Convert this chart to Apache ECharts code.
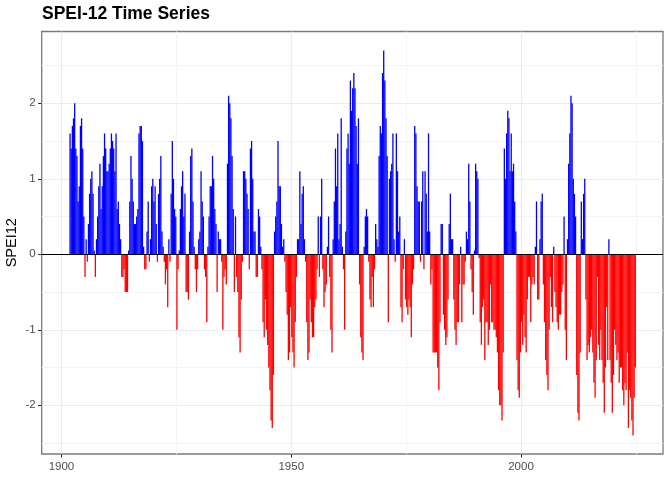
<!DOCTYPE html>
<html>
<head>
<meta charset="utf-8">
<script src="https://cdn.jsdelivr.net/npm/echarts@6.0.0/dist/echarts.min.js"></script>
<style>
  html, body { margin: 0; padding: 0; background: #ffffff; }
  #chart { width: 672px; height: 480px; }
</style>
</head>
<body>
<div id="chart"></div>
<script>
// SPEI-12, quarterly values, first quarter = 1901 Q4
var firstQuarter = 1901.75;
var quarterStep = 0.25;

var s1901 = [1.6,1.4,1.7,1.8,2.0,1.4,1.3,0.7,0.9,1.7, 1.8,1.4,0.5,-0.3,0.2,-0.1,0.4,0.8,1.0,1.1,
             0.8,0.05,-0.3,0.2,0.5,0.9,1.2,0.6,0.9,1.3, 1.6,1.4,1.1,1.1,1.2,1.4,1.6,1.5,1.4,1.1];
var s1911 = [1.6,0.6,0.7,0.4,0.2,-0.3,-0.3,-0.2,-0.5,-0.5, -0.5,0.05,0.7,1.3,1.0,0.7,0.4,0.4,0.5,0.6,
             1.6,1.7,1.7,1.5,0.1,-0.2,-0.2,0.3,0.7,-0.1, 0.2,0.9,1.0,0.7,0.9,0.4,-0.1,0.8,1.0,1.3];
var s1921 = [0.3,0.1,-0.1,-0.4,-0.2,-0.7,0.2,-0.1,0.8,1.5, 1.0,0.6,0.5,-1.0,-0.2,0.05,0.6,0.9,1.1,0.5,
             0.8,-0.5,-0.5,-0.6,0.3,1.3,1.4,0.7,0.1,-0.2, -0.5,-0.2,0.2,0.3,1.1,0.7,0.5,-0.2,-0.3,-0.9];
var s1931 = [0.1,0.5,0.9,0.9,1.3,1.0,0.6,0.4,-0.5,0.3, 0.2,0.2,-0.1,-1.0,-0.3,-0.2,-0.4,1.2,2.1,2.0,
             1.8,1.3,0.6,-0.5,0.5,-0.3,-0.5,-1.1,-1.3,-0.6, -0.1,1.1,1.1,1.0,0.8,0.6,-0.2,1.4,1.5,1.0];
var s1941 = [0.3,0.3,-0.3,-0.3,0.6,0.5,0.1,-0.2,-0.9,-1.1, -0.6,-1.0,-1.2,-1.5,-1.8,-2.2,-2.3,-1.6,0.3,0.5,
             0.7,1.5,0.9,0.9,0.4,0.1,0.2,-0.1,-0.5,-0.8, -1.4,-1.3,-0.7,-1.1,-1.3,-1.5,-0.9,-0.3,0.2,0.2];
var s1951 = [1.1,0.4,0.8,0.9,0.2,-0.1,-0.9,-1.4,-1.3,-0.6, -0.9,-1.1,-1.1,-0.7,-0.6,-0.2,0.5,-0.3,0.5,1.0,
             -0.2,-0.7,-0.5,-0.4,0.1,0.5,-0.3,-1.0,-1.3,0.2, 0.7,1.4,0.9,1.6,0.2,0.4,1.8,0.1,-0.2,-1.0];
var s1961 = [0.3,1.4,1.6,1.2,2.3,1.9,2.2,2.4,2.2,1.7, 1.2,1.8,-0.4,-1.1,-1.3,-1.4,0.1,0.5,0.6,0.5,
             -0.1,-0.6,-0.7,-0.3,-0.7,-0.2,0.4,0.2,0.1,1.3, 1.7,1.6,2.4,2.7,2.3,1.8,1.3,-0.9,1.0,1.1];
var s1971 = [1.2,1.6,0.2,-0.1,1.6,1.1,0.3,0.5,-0.7,-0.9, -0.2,0.2,-0.6,-0.7,-0.8,-0.6,-0.7,-1.1,-0.4,-0.2,
             1.7,1.6,0.9,0.7,0.7,-0.1,0.7,1.1,-0.2,1.1, 0.8,0.3,1.6,0.3,-0.4,-0.2,-1.3,-1.3,-1.3,-1.3];
var s1981 = [-1.5,-1.8,-0.9,0.4,0.4,-0.8,-1.0,-1.2,-1.1,-0.6, 0.4,0.8,0.2,0.2,-0.6,-1.0,-1.2,-0.9,-0.9,-0.4,
             0.1,-0.9,-0.4,-0.4,-0.1,0.3,0.2,1.2,0.7,-0.2, -0.5,-0.8,0.05,1.2,1.1,1.0,-0.05,-0.9,-1.2,-0.7];
var s1991 = [-0.6,-1.4,-0.9,-0.9,-1.2,-1.0,-0.4,-0.9,-0.9,-1.0, -1.0,-1.1,-1.3,-1.8,-2.0,-2.0,-2.2,-1.3,1.4,1.0,
             1.6,1.9,1.8,1.1,1.6,1.1,1.2,0.7,0.3,-1.4, -1.8,-1.9,-1.3,-0.9,-1.2,-0.8,-1.1,-1.3,-0.6,-0.3];
var s2001 = [-0.3,-0.9,-0.4,-0.3,-0.4,0.1,0.7,-0.6,-0.6,0.2, 0.7,0.8,-0.4,-0.9,-1.4,-1.6,-1.8,-1.0,-0.3,-0.7,
             -0.9,0.1,-0.5,-0.7,-0.9,-1.0,-0.8,-0.8,-0.5,-0.4, 0.5,-1.0,-1.4,0.2,1.2,1.6,2.1,2.0,1.0,0.8];
var s2011 = [0.5,-1.6,-2.1,-2.2,-1.3,0.7,0.2,0.8,1.0,-0.6, -1.4,-1.2,-1.3,-1.1,-1.0,-1.3,-1.7,-1.9,-1.4,-0.3,
             -1.2,-1.4,-1.0,-1.4,-1.7,-2.1,-1.5,-0.7,-1.4,0.2, -1.4,-1.7,-2.1,-1.6,-1.0,-1.2,-1.4,-1.3,-1.7,-1.5];
var s2021 = [-1.5,-1.8,-2.0,-1.7,-1.8,-1.3,-2.3,-1.8,-1.9,-2.2,-2.4,-1.9,-1.5];

var xMajor = [1900, 1950, 2000];
var xMinor = [1925, 1975, 2025];
var yMajor = [-2, -1, 0, 1, 2];
var yMinor = [-2.5, -1.5, -0.5, 0.5, 1.5, 2.5];

var values = [].concat(s1901, s1911, s1921, s1931, s1941, s1951, s1961,
                       s1971, s1981, s1991, s2001, s2011, s2021);
var points = values.map(function (v, i) {
    return [firstQuarter + i * quarterStep + quarterStep / 2, v];
});

var xMin = 1895.7, xMax = 2030.9;
var yMin = -2.645, yMax = 2.95;
var font = 'Liberation Sans, Arial, Helvetica, sans-serif';

var chart = echarts.init(document.getElementById('chart'));

var option = {
    animation: false,
    backgroundColor: '#ffffff',
    title: {
        text: 'SPEI-12 Time Series',
        left: 37,
        top: 0,
        textStyle: { fontFamily: font, fontSize: 17.5, fontWeight: 'bold', color: '#000000' }
    },
    grid: {
        left: 41.7, right: 9, top: 31.5, bottom: 26,
        containLabel: false,
        outerBoundsMode: 'none',
        show: true,
        borderColor: '#7a7a7a',
        borderWidth: 1.3,
        backgroundColor: 'transparent'
    },
    xAxis: [{
        type: 'value',
        position: 'bottom',
        min: xMin, max: xMax,
        axisLine: { show: false, onZero: false },
        axisTick: { show: true, length: 3.7, customValues: xMajor, lineStyle: { color: '#333333', width: 1 } },
        axisLabel: {
            customValues: xMajor, color: '#4d4d4d', fontSize: 11.5, fontFamily: font, margin: 7,
            formatter: function (v) { return String(v); }
        },
        splitLine: { show: true, lineStyle: { color: '#ebebeb', width: 1.1 } }
    }, {
        type: 'value',
        min: xMin, max: xMax,
        axisLine: { show: false, onZero: false },
        axisTick: { show: false, customValues: xMinor },
        axisLabel: { show: false },
        splitLine: { show: true, lineStyle: { color: '#f4f4f4', width: 1 } }
    }],
    yAxis: [{
        type: 'value',
        position: 'left',
        min: yMin, max: yMax,
        name: 'SPEI12',
        nameLocation: 'middle',
        nameGap: 22,
        nameMoveOverlap: false,
        nameTextStyle: { fontFamily: font, fontSize: 14.5, color: '#000000' },
        axisLine: { show: false, onZero: false },
        axisTick: { show: true, length: 3.7, customValues: yMajor, lineStyle: { color: '#333333', width: 1 } },
        axisLabel: { customValues: yMajor, color: '#4d4d4d', fontSize: 11.5, fontFamily: font, margin: 6 },
        splitLine: { show: true, lineStyle: { color: '#ebebeb', width: 1.1 } }
    }, {
        type: 'value',
        min: yMin, max: yMax,
        axisLine: { show: false, onZero: false },
        axisTick: { show: false, customValues: yMinor },
        axisLabel: { show: false },
        splitLine: { show: true, lineStyle: { color: '#f4f4f4', width: 1 } }
    }],
    series: [{
        type: 'bar',
        xAxisIndex: 0,
        yAxisIndex: 0,
        data: points,
        barWidth: 1.3,
        itemStyle: {
            color: function (p) { return p.value[1] < 0 ? '#ff0000' : '#0000ff'; }
        },
        markLine: {
            silent: true,
            symbol: 'none',
            label: { show: false },
            lineStyle: { color: '#000000', width: 1.2, type: 'solid' },
            data: [[{ coord: [xMin, 0] }, { coord: [xMax, 0] }]]
        }
    }]
};

chart.setOption(option);
</script>
</body>
</html>
